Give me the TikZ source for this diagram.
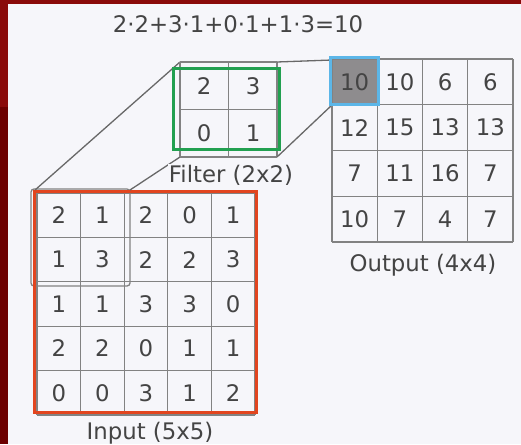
\documentclass[tikz,border=0pt]{standalone}
\usepackage{fontspec}
\setmainfont{DejaVu Sans}
\definecolor{bgred}{HTML}{8A0A0A}
\definecolor{bgredd}{HTML}{6C0000}
\definecolor{paper}{HTML}{F6F6FA}
\definecolor{gridgray}{HTML}{828282}
\definecolor{txt}{HTML}{444444}
\definecolor{inred}{HTML}{E2451F}
\definecolor{fgreen}{HTML}{22A050}
\definecolor{oblue}{HTML}{5CB6E8}
\definecolor{cellgray}{HTML}{8E8C8E}
\begin{document}
\begin{tikzpicture}[x=1pt,y=-1pt,
  gridline/.style={draw=gridgray, line width=1.3pt},
  conn/.style={draw=gridgray!80!black, line width=1.3pt},
  num/.style={text=txt, font=\fontsize{22.8}{26}\selectfont, inner sep=0pt, anchor=center},
  lbl/.style={text=txt, font=\fontsize{22.8}{26}\selectfont, inner sep=1pt, anchor=base}]
\useasboundingbox (0,0) rectangle (521,444);
\fill[bgred] (0,0) rectangle (521,444);
\fill[bgredd] (0,107) rectangle (8,444);
\fill[paper] (8,4) rectangle (521,444);

% equation
\node[lbl] (eq) at (238,33) {2·2+3·1+0·1+1·3=10};

% ---------- input grid ----------
\foreach \i in {0,...,5} {
  \draw[gridline] ({37+43.6*\i},193) -- ({37+43.6*\i},415);
  \draw[gridline] (37,{193+44.4*\i}) -- (255,{193+44.4*\i});
}
\foreach \row [count=\r] in {{2,1,2,0,1},{1,3,2,2,3},{1,1,3,3,0},{2,2,0,1,1},{0,0,3,1,2}} {
  \foreach \v [count=\c] in \row {
    \node[num] (in-\r-\c) at ({37+43.6*(\c-0.5)},{193+44.4*(\r-0.5)}) {\v};
  }
}
% window on the input
\draw[gridline, rounded corners=3pt] (31,189) rectangle (130,286);
\coordinate (win-tl) at (35,190);
\coordinate (win-tr) at (130,190);
% red frame
\draw[inred, line width=3pt] (34,191) rectangle (256,412);
\node[lbl] (inlbl) at (150,439) {Input (5x5)};

% ---------- filter ----------
\coordinate (f-tl) at (180,62);
\coordinate (f-bl) at (180,157);
\coordinate (f-tr) at (277,62);
\coordinate (f-br) at (277,157);
\draw[conn] (win-tl) -- (f-tl);
\draw[conn] (win-tr) -- (f-bl);
\foreach \i in {0,1,2} {
  \draw[gridline] ({180+48.5*\i},62) -- ({180+48.5*\i},157);
  \draw[gridline] (180,{62+47.5*\i}) -- (277,{62+47.5*\i});
}
\node[num] (f-1-1) at (204,86) {2};
\node[num] (f-1-2) at (253,86) {3};
\node[num] (f-2-1) at (204,133) {0};
\node[num] (f-2-2) at (253,133) {1};
\draw[fgreen, line width=3pt] (173,68) rectangle (279,149);
\node[lbl, fill=paper] (flbl) at (231,182) {Filter (2x2)};

% ---------- output ----------
\fill[cellgray] (332,59) rectangle (378,105);
\coordinate (o-tl) at (332,60);
\coordinate (o-bl) at (332,105);
\draw[conn] (f-tr) -- (o-tl);
\draw[conn] (f-br) -- (o-bl);
\foreach \i in {0,...,4} {
  \draw[gridline] ({332+45.25*\i},59) -- ({332+45.25*\i},242);
  \draw[gridline] (332,{59+45.75*\i}) -- (513,{59+45.75*\i});
}
\draw[oblue, line width=3pt] (330,57) rectangle (378,104);
\foreach \row [count=\r] in {{10,10,6,6},{12,15,13,13},{7,11,16,7},{10,7,4,7}} {
  \foreach \v [count=\c] in \row {
    \node[num] (out-\r-\c) at ({332+45.25*(\c-0.5)},{59+45.75*(\r-0.5)}) {\v};
  }
}
\node[lbl] (outlbl) at (423,271) {Output (4x4)};
\end{tikzpicture}
\end{document}
